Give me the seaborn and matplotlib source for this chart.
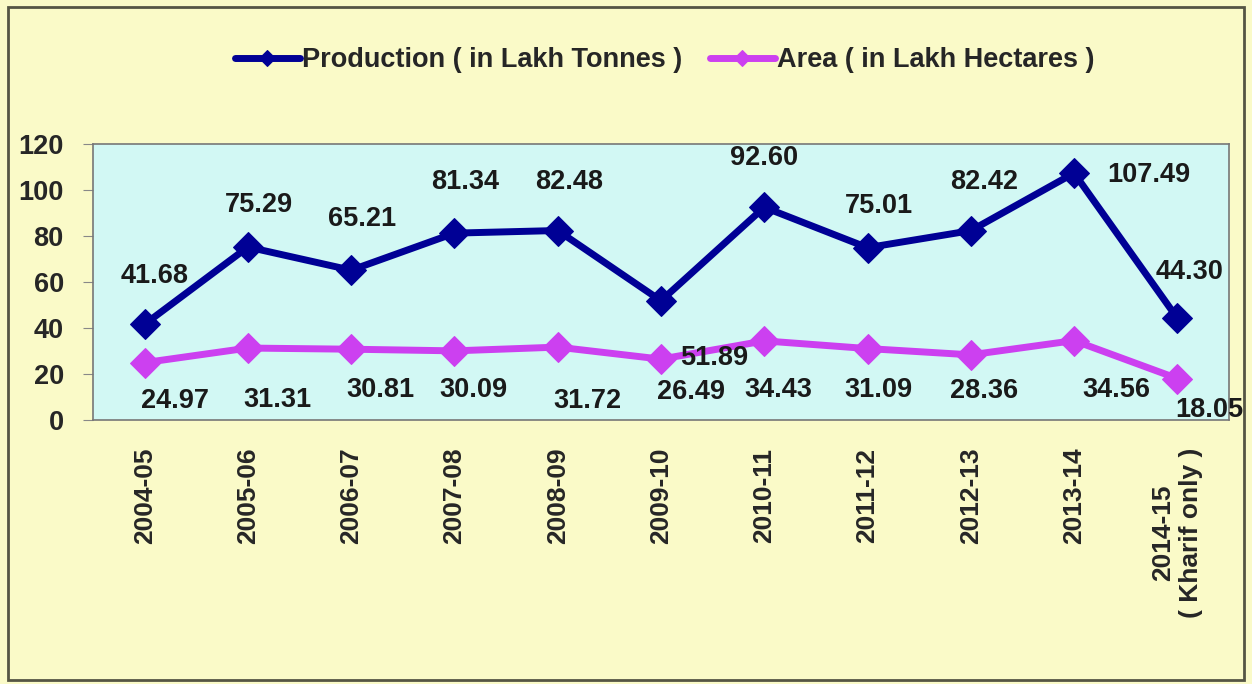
import matplotlib
matplotlib.use('Agg')
import matplotlib.pyplot as plt
import seaborn as sns
import pandas as pd
import numpy as np
from matplotlib.patches import Rectangle

years = ["2004-05", "2005-06", "2006-07", "2007-08", "2008-09", "2009-10",
         "2010-11", "2011-12", "2012-13", "2013-14", "2014-15\n( Kharif only )"]
production = [41.68, 75.29, 65.21, 81.34, 82.48, 51.89, 92.60, 75.01, 82.42, 107.49, 44.30]
area = [24.97, 31.31, 30.81, 30.09, 31.72, 26.49, 34.43, 31.09, 28.36, 34.56, 18.05]

# label offsets in pixels (dx, dy) from each point
prod_offsets = [(10, 48), (11, 42), (11, 51), (11, 51), (11, 49), (53, -57), (0, 49),
                (11, 42), (13, 49), (75, -2), (12, 46)]
area_offsets = [(30, -38), (29, -52), (29, -41), (19, -39), (30, -54), (30, -33), (14, -49),
                (11, -41), (13, -36), (42, -49), (32, -31)]

prod_color = "#000095"
area_color = "#cc40f0"
fig_bg = "#fafac8"
ax_bg = "#d2f8f4"

df = pd.DataFrame({"pos": np.arange(len(years)), "year": years,
                   "Production ( in Lakh Tonnes )": production,
                   "Area ( in Lakh Hectares )": area})

sns.set_style("white")
plt.rcParams['font.family'] = ['Liberation Sans', 'DejaVu Sans']
plt.rcParams['font.weight'] = 'bold'

fig = plt.figure(figsize=(12.52, 6.84), dpi=100, facecolor=fig_bg)
ax = fig.add_axes([0.0743, 0.386, 0.9073, 0.403])
ax.set_facecolor(ax_bg)

sns.lineplot(data=df, x="pos", y="Production ( in Lakh Tonnes )", ax=ax, color=prod_color,
             linewidth=5, marker="D", markersize=15, markeredgecolor=prod_color,
             label="Production ( in Lakh Tonnes )", legend=False)
sns.lineplot(data=df, x="pos", y="Area ( in Lakh Hectares )", ax=ax, color=area_color,
             linewidth=5, marker="D", markersize=15, markeredgecolor=area_color,
             label="Area ( in Lakh Hectares )", legend=False)

for i, v in enumerate(production):
    ax.annotate(f"{v:.2f}", (i, v), xytext=prod_offsets[i], textcoords="offset pixels",
                ha="center", va="center", fontsize=19.5, fontweight="bold", color="#1a1a1a")
for i, v in enumerate(area):
    ax.annotate(f"{v:.2f}", (i, v), xytext=area_offsets[i], textcoords="offset pixels",
                ha="center", va="center", fontsize=19.5, fontweight="bold", color="#1a1a1a")

ax.set_xlim(-0.5, len(years) - 0.5)
ax.set_ylim(0, 120)
ax.set_yticks(range(0, 121, 20))
ax.set_yticklabels([str(t) for t in range(0, 121, 20)], fontsize=19.5, fontweight="bold")
ax.set_xticks(range(len(years)))
ax.set_xticklabels(years, rotation=90, fontsize=19, fontweight="bold", ha="center", va="top",
                   multialignment="center")
ax.set_xticks(np.arange(-0.5, len(years), 1), minor=True)
ax.tick_params(axis="x", which="major", length=0, pad=20)
ax.tick_params(axis="x", which="minor", length=7, color="#888888", direction="out")
ax.tick_params(axis="y", length=7, color="#888888", direction="out", pad=14, left=True)
ax.set_xlabel("")
ax.set_ylabel("")
for s in ax.spines.values():
    s.set_color("#777777")
    s.set_linewidth(1.2)

handles, labels = ax.get_legend_handles_labels()
fig.legend(handles, labels, loc="center", bbox_to_anchor=(0.531, 0.912), ncol=2, frameon=False,
           prop={"size": 19.5, "weight": "bold"}, handlelength=2.4, handletextpad=0.1,
           columnspacing=1.0, markerscale=0.55)

fig.patches.append(Rectangle((0.006, 0.006), 0.988, 0.984, transform=fig.transFigure,
                             fill=False, edgecolor="#555544", linewidth=2))

fig.savefig("out.png", dpi=100, facecolor=fig_bg)
